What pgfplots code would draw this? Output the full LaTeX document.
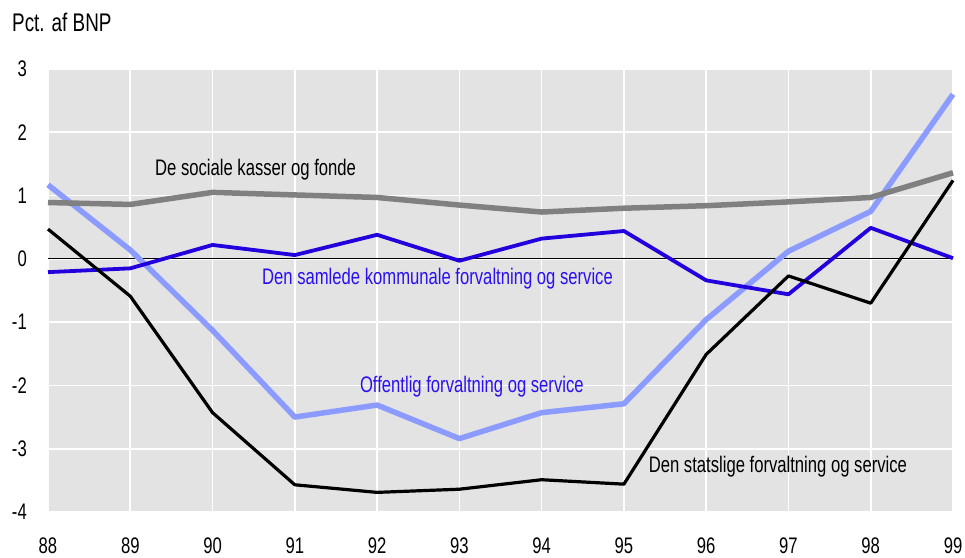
\documentclass[border=0pt]{standalone}
\usepackage{pgfplots}
\pgfplotsset{compat=1.18}
\usepackage{fontspec}
\setmainfont{Liberation Sans}[FakeStretch=0.74]
\definecolor{bgc}{HTML}{E3E3E3}
\definecolor{lgray}{HTML}{808080}
\definecolor{lblue}{HTML}{8C9BFF}
\definecolor{dblue}{HTML}{2200DD}
\definecolor{tblue}{HTML}{2A10F0}
\newcommand\lbl{\fontsize{22.5bp}{27bp}\selectfont}
\newcommand\ttl{\fontsize{25.5bp}{30bp}\selectfont}
\begin{document}
\begin{tikzpicture}
\begin{axis}[
  scale only axis, width=905bp, height=443bp,
  xmin=88, xmax=99, ymin=-4, ymax=3,
  xtick={88,...,99}, ytick={-4,...,3},
  axis line style={draw=none},
  major tick length=0pt,
  grid=major, major grid style={white, line width=1.6bp},
  axis background/.style={fill=bgc},
  /pgf/number format/assume math mode=true,
  tick label style={font=\lbl},
  yticklabel style={anchor=east, inner sep=0pt, xshift=-21bp},
  xticklabel style={anchor=north, inner sep=0pt, yshift=-26bp},
  clip=false,
  line join=round,
]
\addplot[black, line width=0.9bp] coordinates {(88,0) (99,0)};
\addplot[lblue, line width=5.5bp] coordinates {
(88,1.17) (89,0.14) (90,-1.13) (91,-2.50) (92,-2.31) (93,-2.84)
(94,-2.43) (95,-2.29) (96,-0.96) (97,0.12) (98,0.75) (99,2.60)};
\addplot[lgray, line width=5.5bp] coordinates {
(88,0.89) (89,0.86) (90,1.05) (91,1.01) (92,0.97) (93,0.85)
(94,0.74) (95,0.80) (96,0.84) (97,0.90) (98,0.97) (99,1.36)};
\addplot[dblue, line width=3.8bp] coordinates {
(88,-0.21) (89,-0.15) (90,0.22) (91,0.06) (92,0.38) (93,-0.03)
(94,0.32) (95,0.44) (96,-0.34) (97,-0.56) (98,0.49) (99,0.01)};
\addplot[black, line width=3.2bp] coordinates {
(88,0.47) (89,-0.59) (90,-2.43) (91,-3.57) (92,-3.69) (93,-3.64)
(94,-3.49) (95,-3.56) (96,-1.51) (97,-0.27) (98,-0.70) (99,1.24)};
\node[anchor=west, inner sep=0pt, font=\lbl] at (axis cs:89.30,1.41) {De sociale kasser og fonde};
\node[anchor=west, inner sep=0pt, font=\lbl, text=tblue] at (axis cs:90.60,-0.32) {Den samlede kommunale forvaltning og service};
\node[anchor=west, inner sep=0pt, font=\lbl, text=tblue] at (axis cs:91.79,-2.02) {Offentlig forvaltning og service};
\node[anchor=west, inner sep=0pt, font=\lbl] at (axis cs:95.30,-3.28) {Den statslige forvaltning og service};
\node[anchor=west, inner sep=0pt, font=\ttl] at ([xshift=-36bp,yshift=47bp]rel axis cs:0,1) {Pct. af BNP};
\end{axis}
\path ([xshift=-48bp,yshift=-46bp]current axis.south west) rectangle ([xshift=12bp,yshift=69bp]current axis.north east);
\end{tikzpicture}
\end{document}
